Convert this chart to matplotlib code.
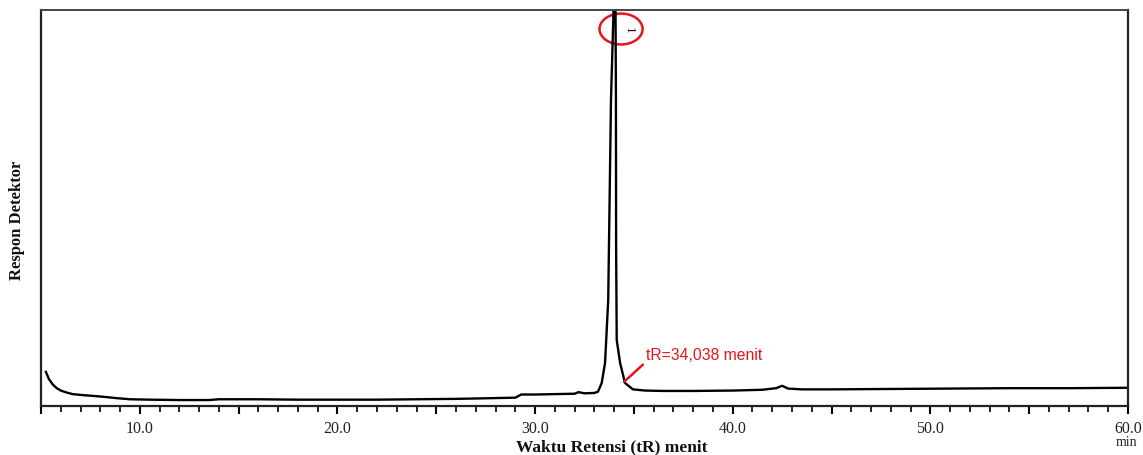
import matplotlib
matplotlib.use("Agg")
import matplotlib.pyplot as plt
from matplotlib.patches import Ellipse
from matplotlib.ticker import MultipleLocator, FuncFormatter

# Retention time (min) and detector response (arbitrary units)
time_min = [5.25, 5.4, 5.6, 5.8, 6.0, 6.3, 6.6, 7.0, 7.5, 8.0, 8.8, 9.5, 10.5, 12.0,
            13.5, 14.0, 16.0, 18.0, 20.0, 22.0, 24.0, 26.0, 28.0, 29.0, 29.3, 30.0,
            31.0, 32.0, 32.2, 32.5, 33.0, 33.18, 33.37, 33.54, 33.70, 33.84, 33.97,
            34.02, 34.07, 34.09, 34.10, 34.13, 34.30, 34.55, 34.95, 35.56, 36.5,
            38.0, 40.0, 41.5, 42.2, 42.5, 42.8, 43.5, 45.0, 48.0, 51.0, 54.0, 57.0, 60.0]
response = [8.6, 6.8, 5.4, 4.5, 3.9, 3.4, 3.0, 2.8, 2.6, 2.4, 2.0, 1.7, 1.6, 1.5,
            1.5, 1.7, 1.7, 1.6, 1.6, 1.6, 1.7, 1.8, 2.0, 2.1, 2.9, 2.9,
            3.0, 3.1, 3.5, 3.2, 3.3, 3.6, 5.8, 10.9, 26.8, 77.3, 100.0,
            112.0, 100.0, 77.3, 40.0, 16.7, 10.9, 5.8, 4.2, 3.9, 3.8,
            3.8, 3.9, 4.1, 4.5, 5.1, 4.4, 4.2, 4.2, 4.3, 4.4, 4.5, 4.5, 4.6]

tick_label_values = [10, 20, 30, 40, 50, 60]
peak_label = "1"
annotation_text = "tR=34,038 menit"

fig = plt.figure(figsize=(11.43, 4.55), dpi=100)
ax = fig.add_axes([41 / 1143, 1 - 406 / 455, (1128 - 41) / 1143, (406 - 10) / 455])

ax.plot(time_min, response, color="black", lw=1.7, solid_joinstyle="round")
ax.set_xlim(5, 60)
ax.set_ylim(0, 100)

serif = ["Liberation Serif", "DejaVu Serif"]

ax.xaxis.set_major_locator(MultipleLocator(5))
ax.xaxis.set_minor_locator(MultipleLocator(1))
ax.xaxis.set_major_formatter(FuncFormatter(
    lambda v, p: f"{v:.1f}" if round(v) in tick_label_values else ""))
ax.tick_params(axis="x", which="major", direction="out", length=6, width=1.5,
               pad=5, labelsize=11.5, labelcolor="#222222")
ax.tick_params(axis="x", which="minor", direction="out", length=4, width=1.2)
for lab in ax.get_xticklabels():
    lab.set_fontfamily(serif)
ax.set_yticks([])

for side in ["left", "bottom", "right"]:
    ax.spines[side].set_linewidth(1.6)
    ax.spines[side].set_color("#222222")
ax.spines["top"].set_linewidth(1.4)
ax.spines["top"].set_color("#444444")

fig.text(612 / 1143, 1 - 447 / 455, "Waktu Retensi (tR) menit", ha="center", va="center",
         fontsize=12.5, fontweight="bold", family=serif, color="#111111")
fig.text(17 / 1143, 1 - 220 / 455, "Respon Detektor", ha="center", va="center",
         rotation=90, fontsize=12, fontweight="bold", family=serif, color="#111111")
fig.text(1127 / 1143, 1 - 442 / 455, "min", ha="center", va="center",
         fontsize=10, family=serif, color="#222222")

# peak number and red circle
ax.text(34.75, 94.8, peak_label, rotation=-90, ha="center", va="center",
        fontsize=9.5, family=serif, color="#111111", clip_on=False)
ax.add_patch(Ellipse((34.35, 95.2), 2.18, 7.8, fill=False, edgecolor="#e8141b",
                     lw=1.8, clip_on=False))

# annotation
ax.annotate(annotation_text, xy=(34.5, 6.1), xytext=(35.6, 12.8),
            fontsize=11.3, family=["Liberation Sans", "DejaVu Sans"], color="#e8141b",
            ha="left", va="center",
            arrowprops=dict(arrowstyle="-", color="#e8141b", lw=1.8,
                            shrinkA=0, shrinkB=0, relpos=(0, 0.05)))

fig.savefig("out.png", dpi=100)
